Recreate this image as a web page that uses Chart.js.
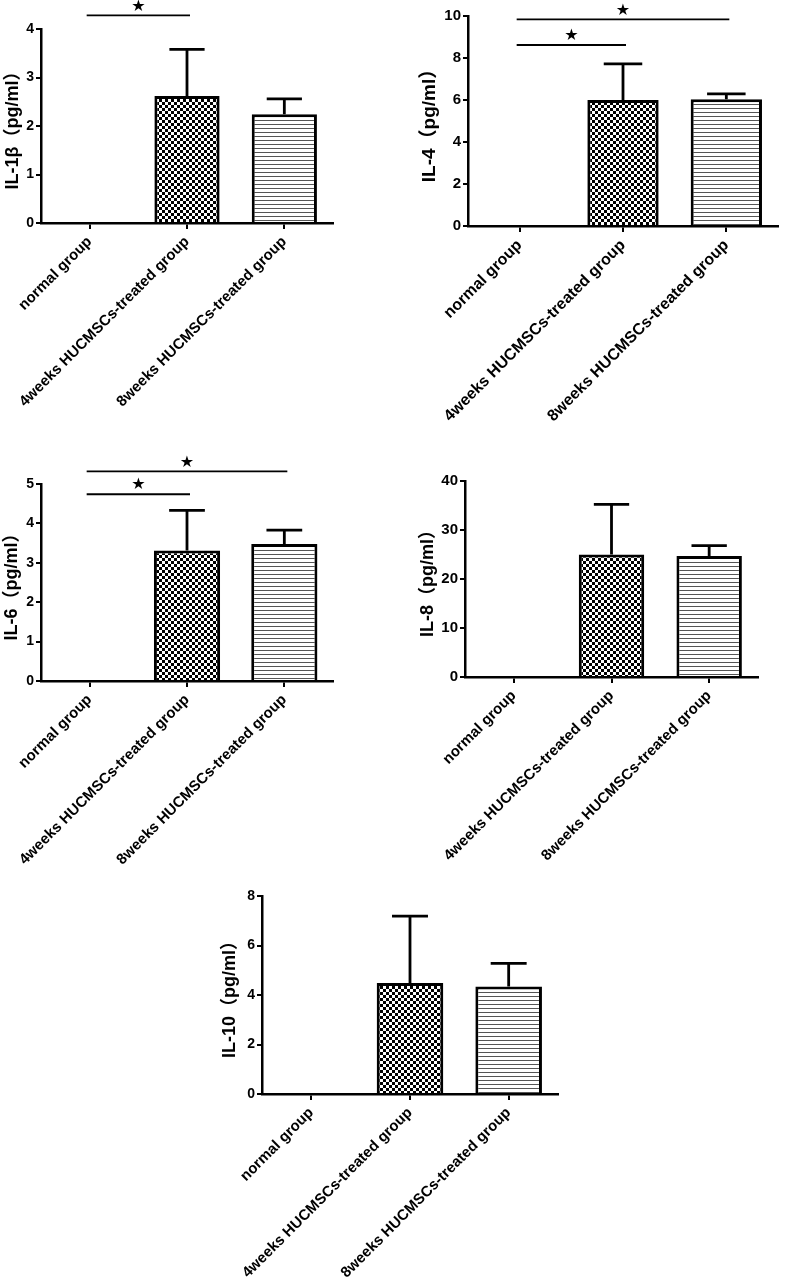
<!DOCTYPE html>
<html>
<head>
<meta charset="utf-8">
<script src="https://cdn.jsdelivr.net/npm/chart.js@4/dist/chart.umd.min.js"></script>
<style>
  html, body { margin: 0; padding: 0; background: #fff; }
  body { width: 789px; height: 1281px; position: relative; overflow: hidden; }
  canvas { position: absolute; }
</style>
</head>
<body>
<canvas id="c1" width="345" height="440" style="left:0px;top:0px"></canvas>
<canvas id="c2" width="389" height="440" style="left:400px;top:0px"></canvas>
<canvas id="c3" width="345" height="440" style="left:0px;top:450px"></canvas>
<canvas id="c4" width="389" height="440" style="left:400px;top:450px"></canvas>
<canvas id="c5" width="389" height="421" style="left:200px;top:860px"></canvas>
<script>
// ---- data ----
const categories = ['normal group', '4weeks HUCMSCs-treated group', '8weeks HUCMSCs-treated group'];

const il1bMeans = [0, 2.62, 2.24];
const il1bErrors = [0, 0.96, 0.32];
const il1bTicks = { max: 4, step: 1 };
const il1bSig = [[0, 1, 4.28]];

const il4Means = [0, 6.0, 6.04];
const il4Errors = [0, 1.72, 0.25];
const il4Ticks = { max: 10, step: 2 };
const il4Sig = [[0, 2, 9.84], [0, 1, 8.62]];

const il6Means = [0, 3.31, 3.48];
const il6Errors = [0, 1.02, 0.35];
const il6Ticks = { max: 5, step: 1 };
const il6Sig = [[0, 2, 5.32], [0, 1, 4.74]];

const il8Means = [0, 25.0, 24.7];
const il8Errors = [0, 10.25, 2.1];
const il8Ticks = { max: 40, step: 10 };
const il8Sig = [];

const il10Means = [0, 4.48, 4.34];
const il10Errors = [0, 2.71, 0.94];
const il10Ticks = { max: 8, step: 2 };
const il10Sig = [];

// ---- patterns ----
function checkerPattern() {
  const c = document.createElement('canvas');
  c.width = 6; c.height = 6;
  const g = c.getContext('2d');
  g.fillStyle = '#fff'; g.fillRect(0, 0, 6, 6);
  g.fillStyle = '#000';
  g.fillRect(0, 0, 3, 3);
  g.fillRect(3, 3, 3, 3);
  return g.createPattern(c, 'repeat');
}
function stripePattern() {
  const c = document.createElement('canvas');
  c.width = 4; c.height = 4;
  const g = c.getContext('2d');
  g.fillStyle = '#fff'; g.fillRect(0, 0, 4, 4);
  g.fillStyle = '#555';
  g.fillRect(0, 0, 4, 1);
  return g.createPattern(c, 'repeat');
}
const FONT = "'Liberation Sans', Arial, 'Noto Sans CJK SC', sans-serif";

const errorBarPlugin = {
  id: 'errorBars',
  afterDatasetsDraw(chart, args, opts) {
    const ctx = chart.ctx;
    const meta = chart.getDatasetMeta(0);
    const ys = chart.scales.y;
    const errs = opts.errors;
    const means = chart.data.datasets[0].data;
    ctx.save();
    ctx.strokeStyle = '#000';
    ctx.lineWidth = 2.8;
    meta.data.forEach((bar, i) => {
      if (!errs[i]) return;
      const top = ys.getPixelForValue(means[i] + errs[i]);
      const half = bar.width * 0.27;
      ctx.beginPath();
      ctx.moveTo(bar.x, bar.y);
      ctx.lineTo(bar.x, top);
      ctx.moveTo(bar.x - half, top);
      ctx.lineTo(bar.x + half, top);
      ctx.stroke();
    });
    ctx.restore();
  },
  afterDraw(chart, args, opts) {
    const ctx = chart.ctx;
    const xs = chart.scales.x, ys = chart.scales.y;
    ctx.save();
    ctx.strokeStyle = '#000';
    ctx.fillStyle = '#000';
    ctx.lineWidth = 1.8;
    (opts.sig || []).forEach(([a, b, v]) => {
      const x0 = xs.getPixelForValue(a) - 3;
      const x1 = xs.getPixelForValue(b) + 3;
      const y = ys.getPixelForValue(v);
      ctx.beginPath();
      ctx.moveTo(x0, y);
      ctx.lineTo(x1, y);
      ctx.stroke();
      ctx.font = "16px 'DejaVu Sans'";
      ctx.textAlign = 'center';
      ctx.textBaseline = 'middle';
      ctx.fillText('\u2605', (x0 + x1) / 2, y - 9);
    });
    ctx.restore();
  }
};

function makePanel(id, title, means, errors, ticks, sig, L) {
  const ctx = document.getElementById(id).getContext('2d');
  return new Chart(ctx, {
    type: 'bar',
    data: {
      labels: categories,
      datasets: [{
        data: means,
        backgroundColor: ['#fff', checkerPattern(), stripePattern()],
        borderColor: '#000',
        borderWidth: 3,
        borderSkipped: 'start',
        barPercentage: L.bar,
        categoryPercentage: 1
      }]
    },
    options: {
      responsive: false,
      animation: false,
      layout: { padding: { left: 0, top: L.top, right: L.right, bottom: 0 } },
      plugins: {
        legend: { display: false },
        tooltip: { enabled: false },
        errorBars: { errors: errors, sig: sig }
      },
      scales: {
        x: {
          type: 'category',
          offset: true,
          border: { display: true, color: '#000', width: 2.5 },
          grid: { display: true, offset: false, drawOnChartArea: false, drawTicks: true, tickLength: 6, color: '#000', lineWidth: 2 },
          ticks: {
            autoSkip: false, minRotation: 45, maxRotation: 45, padding: 4,
            color: '#000', font: { family: FONT, size: L.catFont, weight: 'bold' }
          },
          afterFit: s => { s.height = L.xh; s.paddingLeft = 0; s.paddingRight = 0; }
        },
        y: {
          min: 0, max: ticks.max,
          border: { display: true, color: '#000', width: 2.5 },
          grid: { display: true, drawOnChartArea: false, drawTicks: true, tickLength: 5, color: '#000', lineWidth: 2 },
          ticks: {
            stepSize: ticks.step, padding: 2, color: '#000',
            font: { family: FONT, size: L.tickFont, weight: 'bold' }
          },
          title: {
            display: true, text: title, color: '#000',
            padding: { top: L.titlePad, bottom: 0 },
            font: { family: FONT, size: L.titleFont, weight: 'bold' }
          },
          afterFit: s => { s.width = L.yw; }
        }
      }
    },
    plugins: [errorBarPlugin]
  });
}

makePanel('c1', 'IL-1\u03b2\uff08pg/ml\uff09', il1bMeans, il1bErrors, il1bTicks, il1bSig,
  { top: 29, right: 12, yw: 41, xh: 217, bar: 0.67, catFont: 15, tickFont: 14, titleFont: 18, titlePad: 2 });
makePanel('c2', 'IL-4\uff08pg/ml\uff09', il4Means, il4Errors, il4Ticks, il4Sig,
  { top: 16, right: 11, yw: 68, xh: 214, bar: 0.69, catFont: 16, tickFont: 15, titleFont: 19, titlePad: 18 });
makePanel('c3', 'IL-6\uff08pg/ml\uff09', il6Means, il6Errors, il6Ticks, il6Sig,
  { top: 34, right: 12, yw: 41, xh: 209, bar: 0.68, catFont: 15, tickFont: 14, titleFont: 18, titlePad: 1 });
makePanel('c4', 'IL-8\uff08pg/ml\uff09', il8Means, il8Errors, il8Ticks, il8Sig,
  { top: 31, right: 31, yw: 65, xh: 213, bar: 0.67, catFont: 15, tickFont: 15, titleFont: 18, titlePad: 17 });
makePanel('c5', 'IL-10\uff08pg/ml\uff09', il10Means, il10Errors, il10Ticks, il10Sig,
  { top: 36, right: 31, yw: 62, xh: 187, bar: 0.675, catFont: 15, tickFont: 14, titleFont: 18, titlePad: 19 });
</script>
</body>
</html>
